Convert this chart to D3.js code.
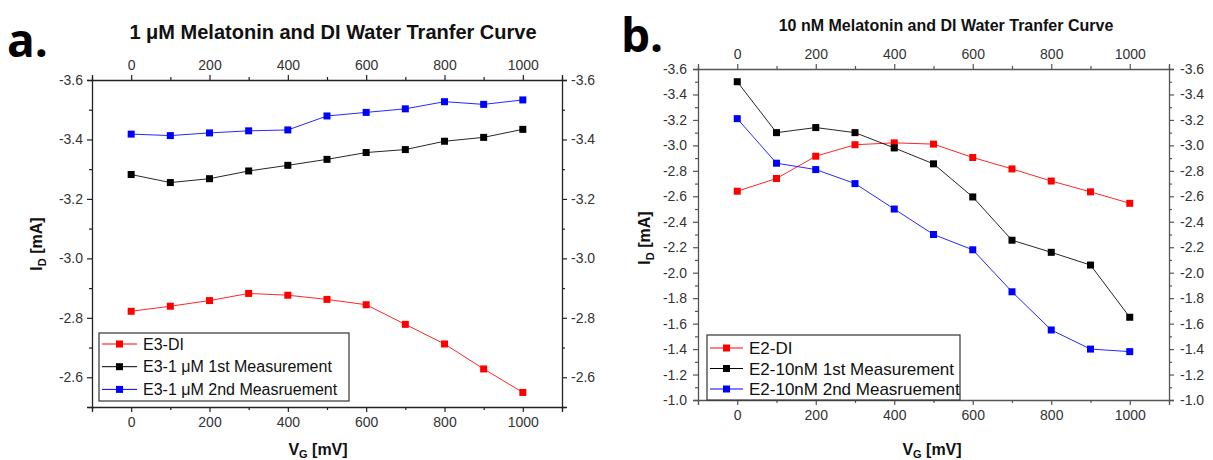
<!DOCTYPE html>
<html><head><meta charset="utf-8">
<script src="https://cdn.jsdelivr.net/npm/d3@7"></script>
<style>body{margin:0;background:#fff}svg{display:block}text{font-family:Arial,"Liberation Sans",sans-serif}</style>
</head><body>
<svg id="c" width="1213" height="460"></svg>
<script>
const vg = [0,100,200,300,400,500,600,700,800,900,1000];
const xTicks = [0,200,400,600,800,1000];
// Panel a (1 µM)
const aDI   = [-2.822,-2.839,-2.858,-2.882,-2.876,-2.862,-2.844,-2.778,-2.712,-2.628,-2.549];
const a1st  = [-3.282,-3.255,-3.268,-3.294,-3.313,-3.333,-3.356,-3.366,-3.394,-3.407,-3.434];
const a2nd  = [-3.418,-3.413,-3.422,-3.429,-3.432,-3.479,-3.491,-3.503,-3.527,-3.518,-3.533];
const aYTicks = [-3.6,-3.4,-3.2,-3.0,-2.8,-2.6];
const aNames = ["E3-DI","E3-1 \u03bcM 1st Measurement","E3-1 \u03bcM 2nd Measruement"];
// Panel b (10 nM)
const bDI   = [-2.640,-2.740,-2.915,-3.005,-3.020,-3.010,-2.905,-2.815,-2.720,-2.635,-2.545];
const b1st  = [-3.500,-3.100,-3.140,-3.100,-2.980,-2.855,-2.595,-2.255,-2.160,-2.060,-1.650];
const b2nd  = [-3.210,-2.860,-2.810,-2.700,-2.500,-2.300,-2.180,-1.850,-1.550,-1.400,-1.380];
const bYTicks = [-3.6,-3.4,-3.2,-3.0,-2.8,-2.6,-2.4,-2.2,-2.0,-1.8,-1.6,-1.4,-1.2,-1.0];
const bNames = ["E2-DI","E2-10nM 1st Measurement","E2-10nM 2nd Measruement"];
const colors = ["#ff0000","#000000","#0000ff"];

const svg = d3.select("#c");

function panel(o){
  const g = svg.append("g");
  const x = d3.scaleLinear().domain([-100,1100]).range([o.left,o.right]);
  const y = d3.scaleLinear().domain(o.yDomain).range([o.bottom,o.top]);
  const axCol = o.axCol;
  function styleAxis(sel){
    sel.select(".domain").attr("stroke",axCol).attr("stroke-width",1.3);
    sel.selectAll(".tick line").attr("stroke",axCol).attr("stroke-width",1.2);
    sel.selectAll(".tick text").attr("fill","#333").style("font-size",o.tickFont+"px");
  }
  const xMinor = d3.range(-100,1101,100);
  const addMinor = (axisFn, scale, vals, tf) => {
    g.append("g").attr("transform",tf)
      .call(axisFn(scale).tickValues(vals).tickSize(3).tickFormat(""))
      .call(s=>{s.select(".domain").remove();s.selectAll(".tick line").attr("stroke",axCol).attr("stroke-width",1.2);});
  };
  addMinor(d3.axisBottom,x,xMinor.filter(v=>v%200!==0),`translate(0,${o.bottom})`);
  addMinor(d3.axisTop,x,xMinor.filter(v=>v%200!==0),`translate(0,${o.top})`);
  addMinor(d3.axisLeft,y,o.yMinor,`translate(${o.left},0)`);
  addMinor(d3.axisRight,y,o.yMinor,`translate(${o.right},0)`);
  const fmt = v => d3.format(".1f")(v).replace("\u2212","-");
  const xf = d3.format("d");
  g.append("g").attr("transform",`translate(0,${o.bottom})`)
    .call(d3.axisBottom(x).tickValues(xTicks).tickSize(5).tickPadding(o.xPad).tickFormat(xf)).call(styleAxis);
  g.append("g").attr("transform",`translate(0,${o.top})`)
    .call(d3.axisTop(x).tickValues(xTicks).tickSize(5).tickPadding(o.xPad).tickFormat(xf)).call(styleAxis);
  g.append("g").attr("transform",`translate(${o.left},0)`)
    .call(d3.axisLeft(y).tickValues(o.yTicks).tickSize(5).tickPadding(o.yPad).tickFormat(fmt)).call(styleAxis);
  g.append("g").attr("transform",`translate(${o.right},0)`)
    .call(d3.axisRight(y).tickValues(o.yTicks).tickSize(5).tickPadding(o.yPad).tickFormat(fmt)).call(styleAxis);

  const line = d3.line().x((d,i)=>x(vg[i])).y(d=>y(d));
  o.series.forEach((s,k)=>{
    g.append("path").datum(s).attr("d",line).attr("fill","none")
      .attr("stroke",colors[k]).attr("stroke-width",1).attr("stroke-opacity",0.85);
  });
  o.series.forEach((s,k)=>{
    g.selectAll(null).data(s).enter().append("rect")
      .attr("x",(d,i)=>x(vg[i])-3.5).attr("y",d=>y(d)-3.5)
      .attr("width",7).attr("height",7).attr("fill",colors[k]);
  });
  const L = o.legend;
  g.append("rect").attr("x",L.x).attr("y",L.y).attr("width",L.w).attr("height",L.h)
    .attr("fill","#fff").attr("stroke","#333").attr("stroke-width",1.2);
  o.names.forEach((n,k)=>{
    const yy = L.y + L.r0 + k*L.dy;
    g.append("line").attr("x1",L.x+3).attr("x2",L.x+L.lw).attr("y1",yy).attr("y2",yy)
      .attr("stroke",colors[k]).attr("stroke-width",1);
    g.append("rect").attr("x",L.x+3+(L.lw-3)/2-3.5).attr("y",yy-3.5).attr("width",7).attr("height",7).attr("fill",colors[k]);
    g.append("text").attr("x",L.x+L.lw+6).attr("y",yy).attr("dy","0.36em")
      .style("font-size",L.font+"px").attr("fill","#111").text(n);
  });
  g.append("text").attr("x",o.titleX).attr("y",o.titleY).attr("text-anchor","middle")
    .style("font-size",o.titleFont+"px").style("font-weight","bold").attr("fill","#111").text(o.title);
  g.append("text").attr("x",o.tagX).attr("y",o.tagY)
    .style("font-size","46px").style("font-weight","bold").attr("fill","#000")
    .style("font-family","'Open Sans','Noto Sans',sans-serif").text(o.tag);
  const yl = g.append("text").attr("transform",`translate(${o.ylX},${o.ylY}) rotate(-90)`)
    .attr("text-anchor","middle").style("font-size","16px").style("font-weight","bold").attr("fill","#111");
  yl.append("tspan").text("I");
  yl.append("tspan").attr("dy","4").style("font-size","11px").text("D");
  yl.append("tspan").attr("dy","-4").text(" [mA]");
  const xl = g.append("text").attr("x",o.xlX).attr("y",o.xlY).attr("text-anchor","middle")
    .style("font-size","16px").style("font-weight","bold").attr("fill","#111");
  xl.append("tspan").text("V");
  xl.append("tspan").attr("dy","3").style("font-size","11px").text("G");
  xl.append("tspan").attr("dy","-3").text(" [mV]");
}

panel({
  left:92, right:562, top:80, bottom:407, yDomain:[-2.5,-3.6],
  yTicks:aYTicks, yMinor:[-3.5,-3.3,-3.1,-2.9,-2.7,-2.5],
  series:[aDI,a1st,a2nd], names:aNames, axCol:"#222", tickFont:14, xPad:5, yPad:4,
  legend:{x:99,y:333,w:250,h:68,r0:11,dy:22.7,lw:38,font:16},
  title:"1 \u03bcM Melatonin and DI Water Tranfer Curve", titleX:333, titleY:39, titleFont:20,
  tag:"a.", tagX:7, tagY:57, ylX:42, ylY:244, xlX:318, xlY:455
});
panel({
  left:698, right:1169, top:69, bottom:400, yDomain:[-1.0,-3.6],
  yTicks:bYTicks, yMinor:d3.range(0,13).map(i=>-3.5+i*0.2),
  series:[bDI,b1st,b2nd], names:bNames, axCol:"#555", tickFont:14, xPad:5, yPad:6,
  legend:{x:707,y:335,w:253,h:65,r0:13,dy:20.5,lw:36,font:17},
  title:"10 nM Melatonin and DI Water Tranfer Curve", titleX:946, titleY:31, titleFont:16,
  tag:"b.", tagX:621, tagY:52, ylX:650, ylY:238, xlX:932, xlY:455
});
</script>
</body></html>
